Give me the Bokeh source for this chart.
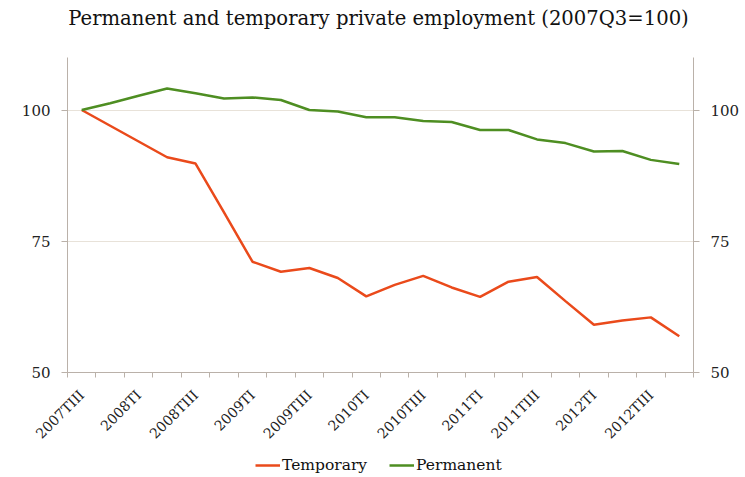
from math import pi
from bokeh.plotting import figure
from bokeh.layouts import column
from bokeh.models import Range1d, LinearAxis, FixedTicker, Legend, LegendItem, Label
from bokeh.embed import file_html
from bokeh.resources import INLINE

quarters = ["2007TIII", "2007TIV",
            "2008TI", "2008TII", "2008TIII", "2008TIV",
            "2009TI", "2009TII", "2009TIII", "2009TIV",
            "2010TI", "2010TII", "2010TIII", "2010TIV",
            "2011TI", "2011TII", "2011TIII", "2011TIV",
            "2012TI", "2012TII", "2012TIII", "2012TIV"]
temporary = [100.0, 97.0, 94.0, 91.0, 89.8, 80.5, 71.1, 69.2, 69.9, 68.0, 64.5,
             66.7, 68.4, 66.2, 64.4, 67.3, 68.2, 63.6, 59.1, 59.9, 60.5, 56.9]
permanent = [100.0, 101.3, 102.7, 104.1, 103.2, 102.2, 102.4, 101.9, 100.0, 99.7, 98.6,
             98.6, 97.9, 97.7, 96.2, 96.2, 94.4, 93.7, 92.1, 92.2, 90.5, 89.7]
tick_labels = ["2007TIII", "2008TI", "2008TIII", "2009TI", "2009TIII", "2010TI",
               "2010TIII", "2011TI", "2011TIII", "2012TI", "2012TIII"]
y_ticks = [50, 75, 100]
title_text = "Permanent and temporary private employment (2007Q3=100)"
series_names = ["Temporary", "Permanent"]

FONT = "DejaVu Serif"
AXIS_COLOR = "#bab1a9"
GRID_COLOR = "#e8e2d9"
TEMP_COLOR = "#ea4a1b"
PERM_COLOR = "#4e8e22"
FRAME_W = 626
BL, BR = 67, 52

xs = [i + 0.5 for i in range(len(quarters))]


def blank_fig(h):
    f = figure(frame_width=FRAME_W, height=h, output_backend="svg", toolbar_location=None,
               x_range=Range1d(0, 1), y_range=Range1d(0, 1),
               x_axis_location=None, y_axis_location=None,
               min_border_left=BL, min_border_right=BR, min_border_top=0,
               min_border_bottom=0)
    f.outline_line_color = None
    f.grid.visible = False
    f.background_fill_color = "white"
    f.border_fill_color = "white"
    return f


# ---- title strip (label x is relative to the aligned frame's left edge) ----
top = blank_fig(40)
top.add_layout(Label(x=311, y=22, x_units="screen", y_units="screen", text=title_text,
                     text_font=FONT, text_font_size="19.6px", text_align="center",
                     text_baseline="alphabetic", text_color="#111111"))

# ---- main chart ----
p = figure(frame_width=FRAME_W, height=410, output_backend="svg", toolbar_location=None,
           x_range=Range1d(0, len(quarters)), y_range=Range1d(50, 110),
           min_border_left=BL, min_border_right=BR, min_border_top=17,
           min_border_bottom=77)
p.outline_line_color = None
p.background_fill_color = "white"
p.border_fill_color = "white"

p.line(xs, temporary, line_color=TEMP_COLOR, line_width=2.5)
p.line(xs, permanent, line_color=PERM_COLOR, line_width=2.5)

xt = [quarters.index(l) + 0.5 for l in tick_labels]
p.xaxis.ticker = FixedTicker(ticks=xt, minor_ticks=list(range(len(quarters) + 1)))
p.xaxis.major_label_overrides = {t: l for t, l in zip(xt, tick_labels)}
p.xaxis.major_tick_out = 0
p.xaxis.major_tick_in = 0
p.xaxis.minor_tick_out = 5
p.xaxis.minor_tick_in = 0
p.xaxis.major_label_orientation = pi / 4
p.xaxis.major_label_standoff = 15
p.xaxis.axis_line_color = AXIS_COLOR
p.xaxis.minor_tick_line_color = AXIS_COLOR
p.xaxis.major_label_text_font = FONT
p.xaxis.major_label_text_font_size = "14px"
p.xaxis.major_label_text_color = "#222222"

p.add_layout(LinearAxis(), "right")
for ax in p.yaxis:
    ax.ticker = FixedTicker(ticks=y_ticks, minor_ticks=[])
    ax.major_tick_out = 6
    ax.major_tick_in = 0
    ax.minor_tick_out = 0
    ax.minor_tick_in = 0
    ax.axis_line_color = AXIS_COLOR
    ax.major_tick_line_color = AXIS_COLOR
    ax.major_label_text_font = FONT
    ax.major_label_text_font_size = "15px"
    ax.major_label_text_color = "#222222"
    ax.major_label_standoff = 11

p.xgrid.visible = False
p.ygrid.ticker = FixedTicker(ticks=y_ticks[1:])
p.ygrid.grid_line_color = GRID_COLOR

# ---- legend strip (series drawn outside the strip's range, only the key shows) ----
bot = blank_fig(27)
bot.y_range = Range1d(0, 1)
lt = bot.line(xs, temporary, line_color=TEMP_COLOR, line_width=2.5)
lp = bot.line(xs, permanent, line_color=PERM_COLOR, line_width=2.5)
legend = Legend(items=[LegendItem(label=series_names[0], renderers=[lt]),
                       LegendItem(label=series_names[1], renderers=[lp])],
                location=(188, 3), orientation="horizontal",
                border_line_color=None, background_fill_alpha=0,
                glyph_width=25, glyph_height=16, label_height=16,
                label_standoff=2, spacing=22, padding=0, margin=0,
                label_text_font=FONT, label_text_font_size="15.5px",
                label_text_color="#111111")
bot.add_layout(legend)

layout = column(top, p, bot, spacing=0)
open("out.html", "w").write(file_html(layout, INLINE))
